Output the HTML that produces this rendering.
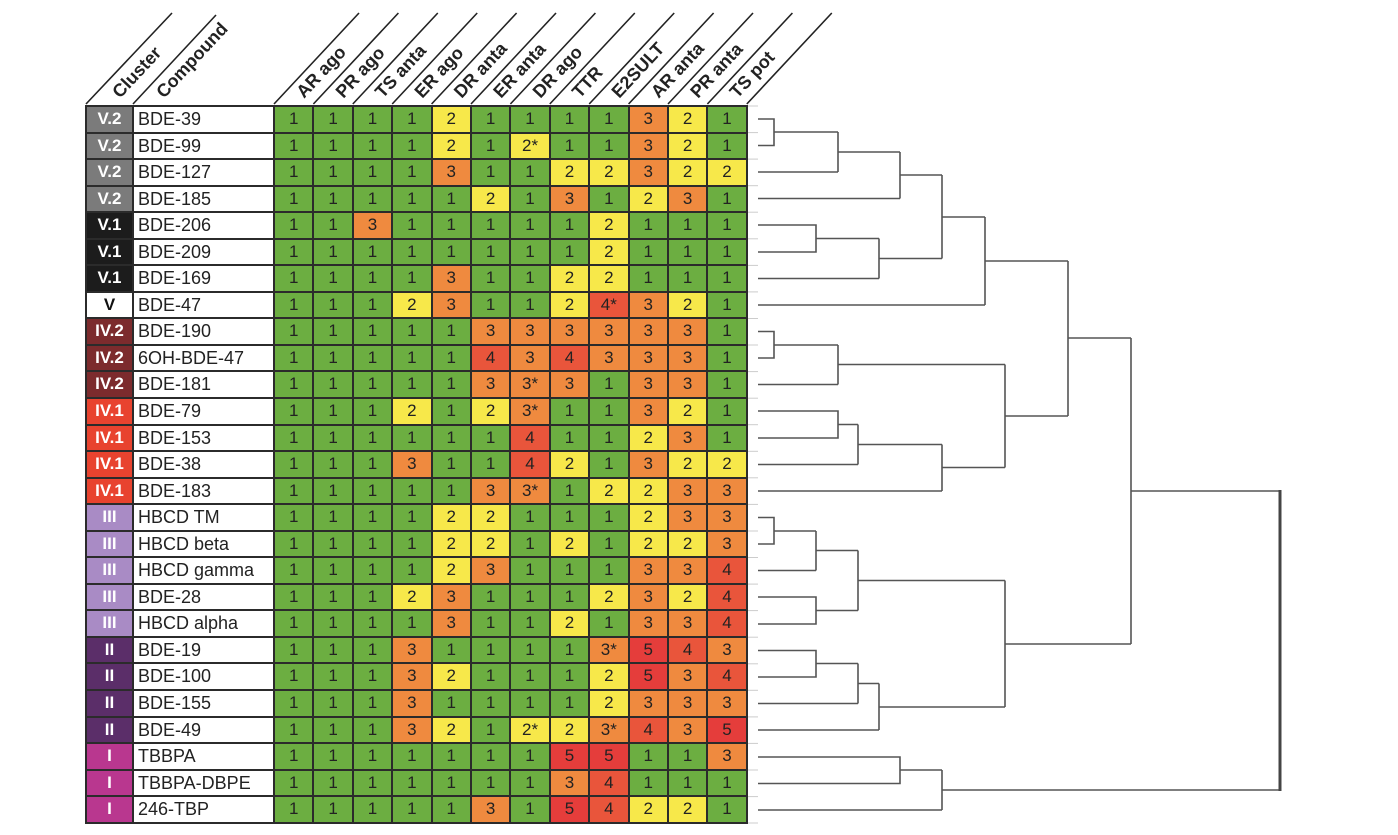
<!DOCTYPE html>
<html><head><meta charset="utf-8"><style>
body{margin:0;width:1398px;height:835px;background:#fff;position:relative;overflow:hidden;font-family:"Liberation Sans",Arial,sans-serif}
#g{position:absolute;left:85px;top:105px;border-top:2px solid #2b2b2b;border-left:2px solid #2b2b2b}
.r{display:flex;height:26.56px}
.r div{box-sizing:border-box;height:26.56px;border-right:2px solid #2b2b2b;border-bottom:2px solid #2b2b2b;text-align:center;line-height:24px;font-size:17px;color:#222}
.c{width:47px;color:#fff!important;font-weight:bold}
.n{width:141px;text-align:left!important;padding-left:4px;font-size:18px!important;background:#fff}
.v{width:39.4px}
.a{background:#6cae41}.b{background:#f7e84a}.o{background:#ef8a3f}.d{background:#e9553b}.e{background:#e53d3b}
.k1{background:#7b7b7b}.k2{background:#1c1c1c}.k3{background:#fff;color:#111!important}.k4{background:#7c2b2d}.k5{background:#e8432f}.k6{background:#a98bc5}.k7{background:#5b2e69}.k8{background:#b9378f}
svg{position:absolute;left:0;top:0}
</style></head><body>
<svg width="1398" height="835">
<g stroke="#222" stroke-width="1.6">
<line x1="86" y1="104" x2="172" y2="13"/><line x1="133" y1="104" x2="216" y2="15"/>
<line x1="274" y1="104" x2="359" y2="13"/><line x1="313.4" y1="104" x2="398.4" y2="13"/><line x1="352.8" y1="104" x2="437.8" y2="13"/><line x1="392.2" y1="104" x2="477.2" y2="13"/><line x1="431.6" y1="104" x2="516.6" y2="13"/><line x1="471" y1="104" x2="556" y2="13"/><line x1="510.4" y1="104" x2="595.4" y2="13"/><line x1="549.8" y1="104" x2="634.8" y2="13"/><line x1="589.2" y1="104" x2="674.2" y2="13"/><line x1="628.6" y1="104" x2="713.6" y2="13"/><line x1="668" y1="104" x2="753" y2="13"/><line x1="707.4" y1="104" x2="792.4" y2="13"/><line x1="746.8" y1="104" x2="831.8" y2="13"/>
</g>
<g font-size="18" font-weight="bold" fill="#222">
<text transform="translate(120,99) rotate(-47)">Cluster</text>
<text transform="translate(164,99) rotate(-47)">Compound</text>
<text transform="translate(304,99) rotate(-47)">AR ago</text>
<text transform="translate(343.4,99) rotate(-47)">PR ago</text>
<text transform="translate(382.8,99) rotate(-47)">TS anta</text>
<text transform="translate(422.2,99) rotate(-47)">ER ago</text>
<text transform="translate(461.6,99) rotate(-47)">DR anta</text>
<text transform="translate(501,99) rotate(-47)">ER anta</text>
<text transform="translate(540.4,99) rotate(-47)">DR ago</text>
<text transform="translate(579.8,99) rotate(-47)">TTR</text>
<text transform="translate(619.2,99) rotate(-47)">E2SULT</text>
<text transform="translate(658.6,99) rotate(-47)">AR anta</text>
<text transform="translate(698,99) rotate(-47)">PR anta</text>
<text transform="translate(737.4,99) rotate(-47)">TS pot</text>
</g>
<g stroke="#ccc" stroke-width="1">
<line x1="748" y1="106" x2="758" y2="106"/><line x1="748" y1="132.6" x2="758" y2="132.6"/><line x1="748" y1="159.1" x2="758" y2="159.1"/><line x1="748" y1="185.7" x2="758" y2="185.7"/><line x1="748" y1="212.2" x2="758" y2="212.2"/><line x1="748" y1="238.8" x2="758" y2="238.8"/><line x1="748" y1="265.4" x2="758" y2="265.4"/><line x1="748" y1="291.9" x2="758" y2="291.9"/><line x1="748" y1="318.5" x2="758" y2="318.5"/><line x1="748" y1="345" x2="758" y2="345"/><line x1="748" y1="371.6" x2="758" y2="371.6"/><line x1="748" y1="398.2" x2="758" y2="398.2"/><line x1="748" y1="424.7" x2="758" y2="424.7"/><line x1="748" y1="451.3" x2="758" y2="451.3"/><line x1="748" y1="477.8" x2="758" y2="477.8"/><line x1="748" y1="504.4" x2="758" y2="504.4"/><line x1="748" y1="531" x2="758" y2="531"/><line x1="748" y1="557.5" x2="758" y2="557.5"/><line x1="748" y1="584.1" x2="758" y2="584.1"/><line x1="748" y1="610.6" x2="758" y2="610.6"/><line x1="748" y1="637.2" x2="758" y2="637.2"/><line x1="748" y1="663.8" x2="758" y2="663.8"/><line x1="748" y1="690.3" x2="758" y2="690.3"/><line x1="748" y1="716.9" x2="758" y2="716.9"/><line x1="748" y1="743.4" x2="758" y2="743.4"/><line x1="748" y1="770" x2="758" y2="770"/><line x1="748" y1="796.6" x2="758" y2="796.6"/><line x1="748" y1="823" x2="758" y2="823"/>
</g>
<g stroke="#555" stroke-width="1.6" fill="none">
<path d="M758 119H774V145.5H758"/>
<path d="M774 132H838M758 172H838M838 132V172"/>
<path d="M838 152H900M758 198.5H900M900 152V198.5"/>
<path d="M758 225H816V252H758"/>
<path d="M816 238.5H879M758 278.5H879M879 238.5V278.5"/>
<path d="M900 175H942M879 258.5H942M942 175V258.5"/>
<path d="M942 217H985M758 305H985M985 217V305"/>
<path d="M758 331.5H774V358H758"/>
<path d="M774 345H838M758 384.5H838M838 345V384.5"/>
<path d="M758 411H838V438H758"/>
<path d="M838 424.5H858M758 464.5H858M858 424.5V464.5"/>
<path d="M858 444.5H942M758 491H942M942 444.5V491"/>
<path d="M838 364.5H1005M942 467.5H1005M1005 364.5V467.5"/>
<path d="M985 261H1068M1005 416H1068M1068 261V416"/>
<path d="M758 517.5H774V544H758"/>
<path d="M774 531H816M758 570.5H816M816 531V570.5"/>
<path d="M758 597H816V624H758"/>
<path d="M816 550.5H858M816 610.5H858M858 550.5V610.5"/>
<path d="M758 650.5H816V677H758"/>
<path d="M816 663.5H858M758 703.5H858M858 663.5V703.5"/>
<path d="M858 683.5H879M758 730H879M879 683.5V730"/>
<path d="M858 580.5H1005M879 707H1005M1005 580.5V707"/>
<path d="M1068 338H1131M1005 644H1131M1131 338V644"/>
<path d="M758 757H900V783.5H758"/>
<path d="M900 770H942M758 810H942M942 770V810"/>
<path d="M1131 491H1280M942 790H1280"/>
</g>
<line x1="1280" y1="490" x2="1280" y2="791" stroke="#444" stroke-width="3"/>
</svg>
<div id="g">
<div class="r"><div class="c k1">V.2</div><div class="n">BDE-39</div><div class="v a">1</div><div class="v a">1</div><div class="v a">1</div><div class="v a">1</div><div class="v b">2</div><div class="v a">1</div><div class="v a">1</div><div class="v a">1</div><div class="v a">1</div><div class="v o">3</div><div class="v b">2</div><div class="v a">1</div></div>
<div class="r"><div class="c k1">V.2</div><div class="n">BDE-99</div><div class="v a">1</div><div class="v a">1</div><div class="v a">1</div><div class="v a">1</div><div class="v b">2</div><div class="v a">1</div><div class="v b">2*</div><div class="v a">1</div><div class="v a">1</div><div class="v o">3</div><div class="v b">2</div><div class="v a">1</div></div>
<div class="r"><div class="c k1">V.2</div><div class="n">BDE-127</div><div class="v a">1</div><div class="v a">1</div><div class="v a">1</div><div class="v a">1</div><div class="v o">3</div><div class="v a">1</div><div class="v a">1</div><div class="v b">2</div><div class="v b">2</div><div class="v o">3</div><div class="v b">2</div><div class="v b">2</div></div>
<div class="r"><div class="c k1">V.2</div><div class="n">BDE-185</div><div class="v a">1</div><div class="v a">1</div><div class="v a">1</div><div class="v a">1</div><div class="v a">1</div><div class="v b">2</div><div class="v a">1</div><div class="v o">3</div><div class="v a">1</div><div class="v b">2</div><div class="v o">3</div><div class="v a">1</div></div>
<div class="r"><div class="c k2">V.1</div><div class="n">BDE-206</div><div class="v a">1</div><div class="v a">1</div><div class="v o">3</div><div class="v a">1</div><div class="v a">1</div><div class="v a">1</div><div class="v a">1</div><div class="v a">1</div><div class="v b">2</div><div class="v a">1</div><div class="v a">1</div><div class="v a">1</div></div>
<div class="r"><div class="c k2">V.1</div><div class="n">BDE-209</div><div class="v a">1</div><div class="v a">1</div><div class="v a">1</div><div class="v a">1</div><div class="v a">1</div><div class="v a">1</div><div class="v a">1</div><div class="v a">1</div><div class="v b">2</div><div class="v a">1</div><div class="v a">1</div><div class="v a">1</div></div>
<div class="r"><div class="c k2">V.1</div><div class="n">BDE-169</div><div class="v a">1</div><div class="v a">1</div><div class="v a">1</div><div class="v a">1</div><div class="v o">3</div><div class="v a">1</div><div class="v a">1</div><div class="v b">2</div><div class="v b">2</div><div class="v a">1</div><div class="v a">1</div><div class="v a">1</div></div>
<div class="r"><div class="c k3">V</div><div class="n">BDE-47</div><div class="v a">1</div><div class="v a">1</div><div class="v a">1</div><div class="v b">2</div><div class="v o">3</div><div class="v a">1</div><div class="v a">1</div><div class="v b">2</div><div class="v d">4*</div><div class="v o">3</div><div class="v b">2</div><div class="v a">1</div></div>
<div class="r"><div class="c k4">IV.2</div><div class="n">BDE-190</div><div class="v a">1</div><div class="v a">1</div><div class="v a">1</div><div class="v a">1</div><div class="v a">1</div><div class="v o">3</div><div class="v o">3</div><div class="v o">3</div><div class="v o">3</div><div class="v o">3</div><div class="v o">3</div><div class="v a">1</div></div>
<div class="r"><div class="c k4">IV.2</div><div class="n">6OH-BDE-47</div><div class="v a">1</div><div class="v a">1</div><div class="v a">1</div><div class="v a">1</div><div class="v a">1</div><div class="v d">4</div><div class="v o">3</div><div class="v d">4</div><div class="v o">3</div><div class="v o">3</div><div class="v o">3</div><div class="v a">1</div></div>
<div class="r"><div class="c k4">IV.2</div><div class="n">BDE-181</div><div class="v a">1</div><div class="v a">1</div><div class="v a">1</div><div class="v a">1</div><div class="v a">1</div><div class="v o">3</div><div class="v o">3*</div><div class="v o">3</div><div class="v a">1</div><div class="v o">3</div><div class="v o">3</div><div class="v a">1</div></div>
<div class="r"><div class="c k5">IV.1</div><div class="n">BDE-79</div><div class="v a">1</div><div class="v a">1</div><div class="v a">1</div><div class="v b">2</div><div class="v a">1</div><div class="v b">2</div><div class="v o">3*</div><div class="v a">1</div><div class="v a">1</div><div class="v o">3</div><div class="v b">2</div><div class="v a">1</div></div>
<div class="r"><div class="c k5">IV.1</div><div class="n">BDE-153</div><div class="v a">1</div><div class="v a">1</div><div class="v a">1</div><div class="v a">1</div><div class="v a">1</div><div class="v a">1</div><div class="v d">4</div><div class="v a">1</div><div class="v a">1</div><div class="v b">2</div><div class="v o">3</div><div class="v a">1</div></div>
<div class="r"><div class="c k5">IV.1</div><div class="n">BDE-38</div><div class="v a">1</div><div class="v a">1</div><div class="v a">1</div><div class="v o">3</div><div class="v a">1</div><div class="v a">1</div><div class="v d">4</div><div class="v b">2</div><div class="v a">1</div><div class="v o">3</div><div class="v b">2</div><div class="v b">2</div></div>
<div class="r"><div class="c k5">IV.1</div><div class="n">BDE-183</div><div class="v a">1</div><div class="v a">1</div><div class="v a">1</div><div class="v a">1</div><div class="v a">1</div><div class="v o">3</div><div class="v o">3*</div><div class="v a">1</div><div class="v b">2</div><div class="v b">2</div><div class="v o">3</div><div class="v o">3</div></div>
<div class="r"><div class="c k6">III</div><div class="n">HBCD TM</div><div class="v a">1</div><div class="v a">1</div><div class="v a">1</div><div class="v a">1</div><div class="v b">2</div><div class="v b">2</div><div class="v a">1</div><div class="v a">1</div><div class="v a">1</div><div class="v b">2</div><div class="v o">3</div><div class="v o">3</div></div>
<div class="r"><div class="c k6">III</div><div class="n">HBCD beta</div><div class="v a">1</div><div class="v a">1</div><div class="v a">1</div><div class="v a">1</div><div class="v b">2</div><div class="v b">2</div><div class="v a">1</div><div class="v b">2</div><div class="v a">1</div><div class="v b">2</div><div class="v b">2</div><div class="v o">3</div></div>
<div class="r"><div class="c k6">III</div><div class="n">HBCD gamma</div><div class="v a">1</div><div class="v a">1</div><div class="v a">1</div><div class="v a">1</div><div class="v b">2</div><div class="v o">3</div><div class="v a">1</div><div class="v a">1</div><div class="v a">1</div><div class="v o">3</div><div class="v o">3</div><div class="v d">4</div></div>
<div class="r"><div class="c k6">III</div><div class="n">BDE-28</div><div class="v a">1</div><div class="v a">1</div><div class="v a">1</div><div class="v b">2</div><div class="v o">3</div><div class="v a">1</div><div class="v a">1</div><div class="v a">1</div><div class="v b">2</div><div class="v o">3</div><div class="v b">2</div><div class="v d">4</div></div>
<div class="r"><div class="c k6">III</div><div class="n">HBCD alpha</div><div class="v a">1</div><div class="v a">1</div><div class="v a">1</div><div class="v a">1</div><div class="v o">3</div><div class="v a">1</div><div class="v a">1</div><div class="v b">2</div><div class="v a">1</div><div class="v o">3</div><div class="v o">3</div><div class="v d">4</div></div>
<div class="r"><div class="c k7">II</div><div class="n">BDE-19</div><div class="v a">1</div><div class="v a">1</div><div class="v a">1</div><div class="v o">3</div><div class="v a">1</div><div class="v a">1</div><div class="v a">1</div><div class="v a">1</div><div class="v o">3*</div><div class="v e">5</div><div class="v d">4</div><div class="v o">3</div></div>
<div class="r"><div class="c k7">II</div><div class="n">BDE-100</div><div class="v a">1</div><div class="v a">1</div><div class="v a">1</div><div class="v o">3</div><div class="v b">2</div><div class="v a">1</div><div class="v a">1</div><div class="v a">1</div><div class="v b">2</div><div class="v e">5</div><div class="v o">3</div><div class="v d">4</div></div>
<div class="r"><div class="c k7">II</div><div class="n">BDE-155</div><div class="v a">1</div><div class="v a">1</div><div class="v a">1</div><div class="v o">3</div><div class="v a">1</div><div class="v a">1</div><div class="v a">1</div><div class="v a">1</div><div class="v b">2</div><div class="v o">3</div><div class="v o">3</div><div class="v o">3</div></div>
<div class="r"><div class="c k7">II</div><div class="n">BDE-49</div><div class="v a">1</div><div class="v a">1</div><div class="v a">1</div><div class="v o">3</div><div class="v b">2</div><div class="v a">1</div><div class="v b">2*</div><div class="v b">2</div><div class="v o">3*</div><div class="v d">4</div><div class="v o">3</div><div class="v e">5</div></div>
<div class="r"><div class="c k8">I</div><div class="n">TBBPA</div><div class="v a">1</div><div class="v a">1</div><div class="v a">1</div><div class="v a">1</div><div class="v a">1</div><div class="v a">1</div><div class="v a">1</div><div class="v e">5</div><div class="v e">5</div><div class="v a">1</div><div class="v a">1</div><div class="v o">3</div></div>
<div class="r"><div class="c k8">I</div><div class="n">TBBPA-DBPE</div><div class="v a">1</div><div class="v a">1</div><div class="v a">1</div><div class="v a">1</div><div class="v a">1</div><div class="v a">1</div><div class="v a">1</div><div class="v o">3</div><div class="v d">4</div><div class="v a">1</div><div class="v a">1</div><div class="v a">1</div></div>
<div class="r"><div class="c k8">I</div><div class="n">246-TBP</div><div class="v a">1</div><div class="v a">1</div><div class="v a">1</div><div class="v a">1</div><div class="v a">1</div><div class="v o">3</div><div class="v a">1</div><div class="v e">5</div><div class="v d">4</div><div class="v b">2</div><div class="v b">2</div><div class="v a">1</div></div>
</div>
</body></html>
